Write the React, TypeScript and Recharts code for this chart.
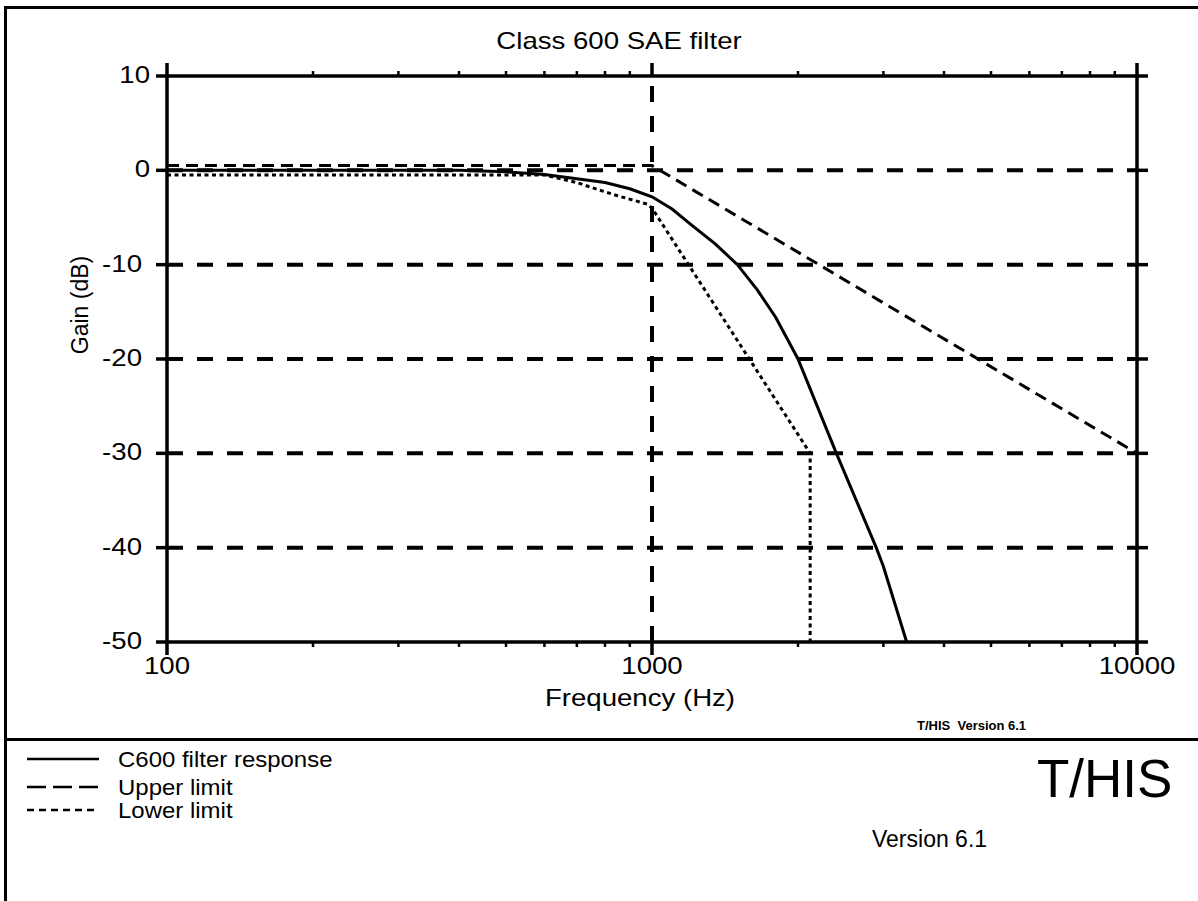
import React from "react";
import { LineChart, Line, XAxis, YAxis, ReferenceLine } from "recharts";

// C600 filter response
const RESPONSE_HZ = [100, 400, 500, 600, 700, 800, 900, 1000, 1100, 1200, 1350, 1500, 1650, 1800, 2000, 2400, 2900, 3000, 3350];
const RESPONSE_DB = [0, 0, -0.15, -0.45, -0.9, -1.3, -1.95, -2.8, -4.1, -5.7, -7.8, -10, -12.7, -15.6, -20, -30, -40, -42, -50];

// SAE corridor
const UPPER_HZ = [100, 1000, 10000];
const UPPER_DB = [0.5, 0.5, -30];
const LOWER_HZ = [100, 600, 650, 700, 780, 850, 920, 980, 1000, 2119, 2119];
const LOWER_DB = [-0.5, -0.5, -0.9, -1.3, -2.1, -2.7, -3.2, -3.6, -4, -30, -50];

const X_MAJOR = [100, 1000, 10000];
const X_MINOR = [200, 300, 400, 500, 600, 700, 800, 900, 2000, 3000, 4000, 5000, 6000, 7000, 8000, 9000];
const Y_TICKS = [10, 0, -10, -20, -30, -40, -50];
const GRID_DB = [0, -10, -20, -30, -40];
const GRID_HZ = [1000];

const FONT = "'Liberation Sans', Arial, Helvetica, sans-serif";
const STRETCH = 1.2;

const zip = (hz: number[], db: number[]) => hz.map((f, i) => ({ f, db: db[i] }));
const responseData = zip(RESPONSE_HZ, RESPONSE_DB);
const upperData = zip(UPPER_HZ, UPPER_DB);
const lowerData = zip(LOWER_HZ, LOWER_DB);

function StretchText({ x, y, anchor = "start", size = 23, children }: any) {
  return (
    <text
      transform={`translate(${x},${y}) scale(${STRETCH},1)`}
      x={0}
      y={0}
      textAnchor={anchor}
      fontFamily={FONT}
      fontSize={size}
      fill="#000"
    >
      {children}
    </text>
  );
}

function BottomTick({ x, y, payload }: any) {
  const major = X_MAJOR.includes(payload.value);
  return (
    <g>
      <line x1={x} x2={x} y1={y} y2={y + (major ? 13 : 5)} stroke="#000" strokeWidth={major ? 3.5 : 2.5} />
      {major && (
        <StretchText x={x} y={y + 32} anchor="middle">
          {payload.value}
        </StretchText>
      )}
    </g>
  );
}

function TopTick({ x, y, payload }: any) {
  const major = X_MAJOR.includes(payload.value);
  return <line x1={x} x2={x} y1={y} y2={y - (major ? 13 : 5)} stroke="#000" strokeWidth={major ? 3.5 : 2.5} />;
}

function LeftTick({ x, y, payload }: any) {
  const v = payload.value;
  return (
    <g>
      <line x1={x - 11} x2={x} y1={y} y2={y} stroke="#000" strokeWidth={3.5} />
      <StretchText x={x - (v < 0 ? 25 : 17)} y={y + 7} anchor="end">
        {v}
      </StretchText>
    </g>
  );
}

function RightTick({ x, y }: any) {
  return <line x1={x} x2={x + 11} y1={y} y2={y} stroke="#000" strokeWidth={3.5} />;
}

const AXIS_LINE = { stroke: "#000", strokeWidth: 3.5 };

export default function App() {
  return (
    <div
      style={{
        position: "absolute",
        left: 0,
        top: 0,
        width: 1198,
        height: 901,
        overflow: "hidden",
        background: "#fff",
      }}
    >
      {/* page frame and divider */}
      <div style={{ position: "absolute", left: 4, top: 6, width: 1300, height: 1000, border: "3px solid #000" }} />
      <div style={{ position: "absolute", left: 4, top: 738, width: 1300, height: 3, background: "#000" }} />

      <div style={{ position: "absolute", left: 0, top: 0 }}>
        <LineChart width={1198} height={740} margin={{ top: 75, right: 60, bottom: 97, left: 166 }}>
          <XAxis
            dataKey="f"
            type="number"
            scale="log"
            domain={[100, 10000]}
            ticks={[...X_MAJOR, ...X_MINOR]}
            interval={0}
            height={1}
            tickSize={0}
            tickMargin={0}
            tickLine={false}
            tick={BottomTick}
            axisLine={AXIS_LINE}
            allowDataOverflow
          />
          <XAxis
            xAxisId="top"
            orientation="top"
            dataKey="f"
            type="number"
            scale="log"
            domain={[100, 10000]}
            ticks={[...X_MAJOR, ...X_MINOR]}
            interval={0}
            height={1}
            tickSize={0}
            tickMargin={0}
            tickLine={false}
            tick={TopTick}
            axisLine={AXIS_LINE}
            allowDataOverflow
          />
          <YAxis
            type="number"
            domain={[-50, 10]}
            ticks={Y_TICKS}
            interval={0}
            width={1}
            tickSize={0}
            tickMargin={0}
            tickLine={false}
            tick={LeftTick}
            axisLine={AXIS_LINE}
            allowDataOverflow
          />
          <YAxis
            yAxisId="right"
            orientation="right"
            type="number"
            domain={[-50, 10]}
            ticks={Y_TICKS}
            interval={0}
            width={1}
            tickSize={0}
            tickMargin={0}
            tickLine={false}
            tick={RightTick}
            axisLine={AXIS_LINE}
            allowDataOverflow
          />
          {GRID_DB.map((v) => (
            <ReferenceLine key={`gy${v}`} y={v} stroke="#000" strokeWidth={4} strokeDasharray="16 14" />
          ))}
          {GRID_HZ.map((v) => (
            <ReferenceLine key={`gx${v}`} x={v} stroke="#000" strokeWidth={4} strokeDasharray="16 14" />
          ))}
          <Line
            data={upperData}
            dataKey="db"
            type="linear"
            stroke="#000"
            strokeWidth={3}
            strokeDasharray="12 7"
            dot={false}
            isAnimationActive={false}
          />
          <Line
            data={lowerData}
            dataKey="db"
            type="linear"
            stroke="#000"
            strokeWidth={3}
            strokeDasharray="4 3.5"
            dot={false}
            isAnimationActive={false}
          />
          <Line
            data={responseData}
            dataKey="db"
            type="linear"
            stroke="#000"
            strokeWidth={3}
            dot={false}
            isAnimationActive={false}
          />
        </LineChart>
      </div>

      {/* titles, legend and footer text */}
      <svg width={1198} height={901} style={{ position: "absolute", left: 0, top: 0, pointerEvents: "none" }}>
        <StretchText x={619} y={49} anchor="middle">
          Class 600 SAE filter
        </StretchText>
        <StretchText x={640} y={706} anchor="middle">
          Frequency (Hz)
        </StretchText>
        <text transform="translate(88,305) rotate(-90)" textAnchor="middle" fontFamily={FONT} fontSize={23}>
          Gain (dB)
        </text>

        <line x1={27} x2={99} y1={759} y2={759} stroke="#000" strokeWidth={2.5} />
        <line x1={27} x2={99} y1={787} y2={787} stroke="#000" strokeWidth={2.5} strokeDasharray="19 7" />
        <line x1={27} x2={99} y1={810} y2={810} stroke="#000" strokeWidth={2.5} strokeDasharray="7 5" />
        <text transform="translate(118,767) scale(1.09,1)" fontFamily={FONT} fontSize={22}>C600 filter response</text>
        <text transform="translate(118,795) scale(1.09,1)" fontFamily={FONT} fontSize={22}>Upper limit</text>
        <text transform="translate(118,818) scale(1.09,1)" fontFamily={FONT} fontSize={22}>Lower limit</text>

        <text x={917} y={730} fontFamily={FONT} fontSize={13} fontWeight="bold" style={{ whiteSpace: "pre" }}>
          {"T/HIS  Version 6.1"}
        </text>
        <text x={1037} y={797} fontFamily={FONT} fontSize={53}>T/HIS</text>
        <text x={872} y={847} fontFamily={FONT} fontSize={23}>Version 6.1</text>
      </svg>
    </div>
  );
}
